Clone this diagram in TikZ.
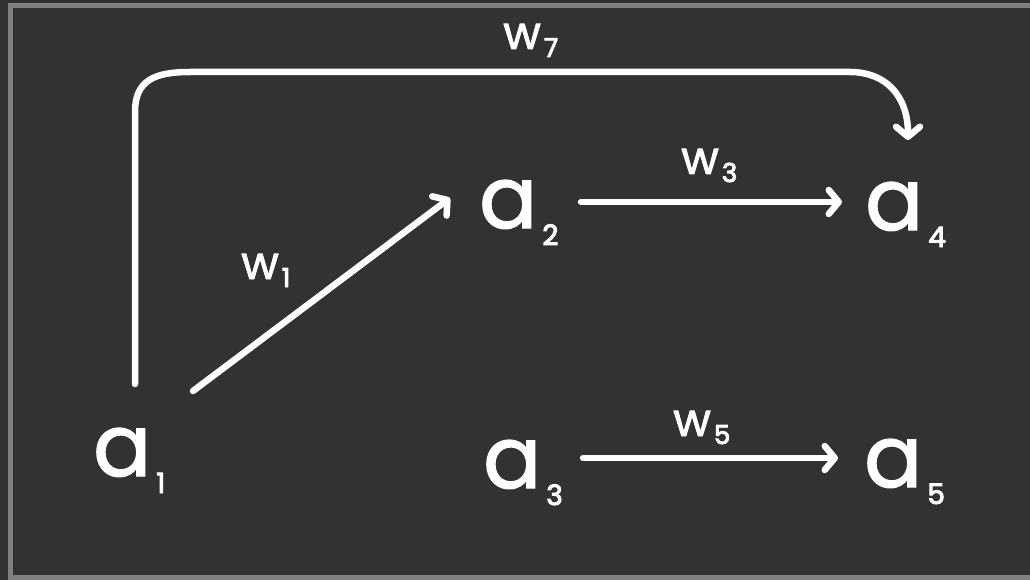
\documentclass[tikz,border=0pt]{standalone}
\usepackage{fontspec}
\setmainfont{Poppins}
\newfontfamily\thickfont{Poppins}[FakeBold=1.6]
\newfontfamily\digitfont{Poppins}[FakeBold=3.5]
\usetikzlibrary{arrows.meta}
\definecolor{bg}{HTML}{323232}
\definecolor{frame}{HTML}{808080}
\tikzset{
  edge/.style={draw=white, line width=6.5pt, line cap=round, line join=round,
    -{Straight Barb[length=10pt,width=24pt,line cap=round,line join=round]}},
  var/.style={text=white, inner sep=0pt, anchor=base west, font=\thickfont},
  wlab/.style={text=white, inner sep=0pt, anchor=base west, font=\thickfont},
}
\newcommand{\avar}[1]{\fontsize{86}{86}\selectfont a\hspace{5pt}\raisebox{-17pt}{\digitfont\fontsize{28}{28}\selectfont #1}}
\newcommand{\wvar}[1]{\fontsize{46}{46}\selectfont w\hspace{3pt}\raisebox{-8pt}{\digitfont\fontsize{26}{26}\selectfont #1}}
\begin{document}
\begin{tikzpicture}[x=1pt,y=-1pt]
\useasboundingbox (0,0) rectangle (1030,580);
\fill[bg] (0,0) rectangle (1030,580);
\draw[frame, line width=5pt] (10.5,5.5) rectangle (1045,577.5);
% variables
\node[var] (a1) at (93,476) {\avar{1}};
\node[var] (a2) at (479,228) {\avar{2}};
\node[var] (a4) at (865,230) {\avar{4}};
\node[var] (a3) at (483,488) {\avar{3}};
\node[var] (a5) at (864,487) {\avar{5}};
% weights
\node[wlab] (w1) at (241,279) {\wvar{1}};
\node[wlab] (w3) at (681,174) {\wvar{3}};
\node[wlab] (w5) at (673,436) {\wvar{5}};
\node[wlab] (w7) at (503,49) {\wvar{7}};
% connectors
\coordinate (s1) at (193,391);
\coordinate (e1) at (450,198);
\coordinate (s3) at (581,202);
\coordinate (e3) at (842,202);
\coordinate (s5) at (583,458);
\coordinate (e5) at (838,458);
\coordinate (s7) at (135,384);
\coordinate (e7) at (908,140);
\draw[edge] (s1) -- (e1);
\draw[edge] (s3) -- (e3);
\draw[edge] (s5) -- (e5);
\draw[edge] (s7) -- (135,112) .. controls (135,80) and (155,72) .. (190,72)
  -- (850,72) .. controls (885,72) and (908,95) .. (e7);
\end{tikzpicture}
\end{document}
